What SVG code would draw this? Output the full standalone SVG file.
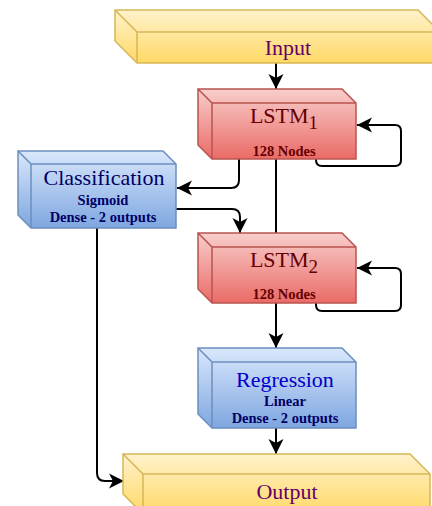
<svg xmlns="http://www.w3.org/2000/svg" width="432" height="506" viewBox="0 0 432 506">
  <defs>
    <linearGradient id="gYellow" x1="0" y1="0" x2="0" y2="1">
      <stop offset="0" stop-color="#fff2cc"/>
      <stop offset="1" stop-color="#ffd966"/>
    </linearGradient>
    <linearGradient id="gRed" x1="0" y1="0" x2="0" y2="1">
      <stop offset="0" stop-color="#f8cecc"/>
      <stop offset="1" stop-color="#ea6b66"/>
    </linearGradient>
    <linearGradient id="gBlue" x1="0" y1="0" x2="0" y2="1">
      <stop offset="0" stop-color="#dae8fc"/>
      <stop offset="1" stop-color="#7ea6e0"/>
    </linearGradient>
    <marker id="arrow" markerUnits="userSpaceOnUse" markerWidth="18" markerHeight="18" viewBox="-16 -8 18 16" refX="0" refY="0" orient="auto">
      <path d="M0,0 L-15,-7.5 L-11,0 L-15,7.5 Z" fill="#000"/>
    </marker>
  </defs>
  <style>
    .yellow { fill: url(#gYellow); stroke: #d6b656; stroke-width: 1.5; }
    .red { fill: url(#gRed); stroke: #b85450; stroke-width: 1.5; }
    .blue { fill: url(#gBlue); stroke: #6c8ebf; stroke-width: 1.5; }
    .edge { fill: none; stroke-width: 1.5; }
    .yellow-edge { stroke: #d6b656; }
    .red-edge { stroke: #b85450; }
    .blue-edge { stroke: #6c8ebf; }
    .title { font-family: "Liberation Serif", "Times New Roman", serif; font-size: 22px; text-anchor: middle; }
    .sub { font-family: "Liberation Serif", "Times New Roman", serif; font-size: 14.5px; font-weight: bold; text-anchor: middle; }
    .conn { fill: none; stroke: #000; stroke-width: 2; }
  </style>

  <!-- connectors -->
  <g id="connectors">
    <path class="conn" d="M276,63 L276,89" marker-end="url(#arrow)"/>
    <path class="conn" d="M316,159 L316,160 Q316,166 322,166 L395,166 Q401,166 401,160 L401,131 Q401,125 395,125 L357,125" marker-end="url(#arrow)"/>
    <path class="conn" d="M239,159 L239,180 Q239,188 231,188 L177,188" marker-end="url(#arrow)"/>
    <path class="conn" d="M176,209 L232,209 Q240,209 240,217 L240,233" marker-end="url(#arrow)"/>
    <path class="conn" d="M276,159 L276,233"/>
    <path class="conn" d="M316,303 L316,305 Q316,311 322,311 L395,311 Q401,311 401,305 L401,274 Q401,268 395,268 L357,268" marker-end="url(#arrow)"/>
    <path class="conn" d="M276,303 L276,348" marker-end="url(#arrow)"/>
    <path class="conn" d="M276,428 L276,454" marker-end="url(#arrow)"/>
    <path class="conn" d="M97,228 L97,473 Q97,481 105,481 L124,481" marker-end="url(#arrow)"/>
  </g>

  <!-- input layer -->
  <g id="input">
    <path class="yellow" d="M115,10 L418,10 L440,32 L440,63 L137,63 L115,41 Z"/>
    <path class="edge yellow-edge" d="M115,10 L137,32 L440,32 M137,32 L137,63"/>
    <text class="title" x="288" y="55" fill="#660066">Input</text>
  </g>

  <!-- first recurrent layer -->
  <g id="lstm1">
    <path class="red" d="M198,89 L342,89 L356,103 L356,159 L212,159 L198,145 Z"/>
    <path class="edge red-edge" d="M198,89 L212,103 L356,103 M212,103 L212,159"/>
    <text class="title" x="284" y="123" fill="#660000">LSTM<tspan font-size="19" dy="6">1</tspan></text>
    <text class="sub" x="284" y="156" fill="#660000">128 Nodes</text>
  </g>

  <!-- classification head -->
  <g id="classification">
    <path class="blue" d="M18,151 L163,151 L176,164 L176,228 L31,228 L18,215 Z"/>
    <path class="edge blue-edge" d="M18,151 L31,164 L176,164 M31,164 L31,228"/>
    <text class="title" x="104" y="185" fill="#000066">Classification</text>
    <text class="sub" x="103" y="205" fill="#000066">Sigmoid</text>
    <text class="sub" x="103" y="222" fill="#000066">Dense - 2 outputs</text>
  </g>

  <!-- second recurrent layer -->
  <g id="lstm2">
    <path class="red" d="M198,233 L342,233 L356,247 L356,303 L212,303 L198,289 Z"/>
    <path class="edge red-edge" d="M198,233 L212,247 L356,247 M212,247 L212,303"/>
    <text class="title" x="284" y="267" fill="#660000">LSTM<tspan font-size="19" dy="6">2</tspan></text>
    <text class="sub" x="284" y="299" fill="#660000">128 Nodes</text>
  </g>

  <!-- regression head -->
  <g id="regression">
    <path class="blue" d="M198,348 L342,348 L356,362 L356,428 L212,428 L198,414 Z"/>
    <path class="edge blue-edge" d="M198,348 L212,362 L356,362 M212,362 L212,428"/>
    <text class="title" x="285" y="387" fill="#0000cc">Regression</text>
    <text class="sub" x="285" y="406" fill="#000066">Linear</text>
    <text class="sub" x="285" y="423" fill="#000066">Dense - 2 outputs</text>
  </g>

  <!-- output layer -->
  <g id="output">
    <path class="yellow" d="M123,454 L410,454 L430,474 L430,514 L143,514 L123,494 Z"/>
    <path class="edge yellow-edge" d="M123,454 L143,474 L430,474 M143,474 L143,514"/>
    <text class="title" x="287" y="499" fill="#660066">Output</text>
  </g>
</svg>
